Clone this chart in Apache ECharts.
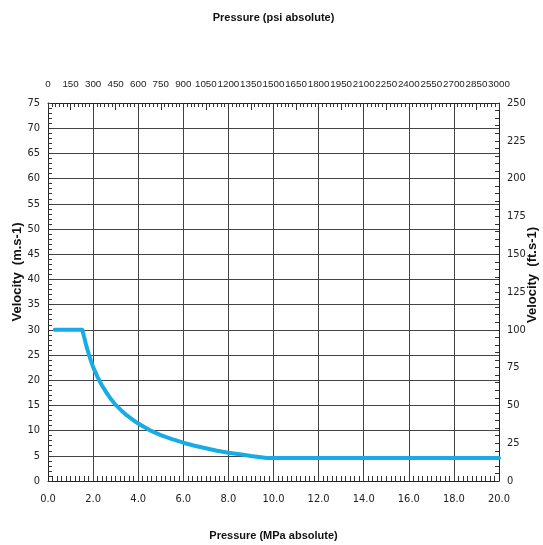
<!DOCTYPE html>
<html><head><meta charset="utf-8">
<script src="https://cdn.jsdelivr.net/npm/echarts@6/dist/echarts.min.js"></script>
<style>html,body{margin:0;padding:0;background:#fff}#c{width:543px;height:545px}</style>
</head><body><div id="c"></div>
<script>
// Data
const pressureMPa = [0.3, 1.52, 1.6, 1.7, 1.8, 1.9, 2.0, 2.2, 2.4, 2.6, 2.8, 3.0, 3.25, 3.5, 3.75, 4.0, 4.5, 5.0, 5.5, 6.0, 6.5, 7.0, 7.5, 8.0, 8.5, 9.0, 9.7, 20.0];
const velocityMS  = [30,  30,   28.6, 26.8, 25.3, 23.9, 22.6, 20.6, 18.9, 17.5, 16.2, 15.1, 14.0, 13.0, 12.2, 11.4, 10.1, 9.1, 8.3, 7.6, 7.0, 6.5, 6.0, 5.6, 5.3, 4.95, 4.55, 4.55];
const psiTickLabels = [0, 150, 300, 450, 600, 750, 900, 1050, 1200, 1350, 1500, 1650, 1800, 1950, 2100, 2250, 2400, 2550, 2700, 2850, 3000];
const mpaTicks = {min: 0, max: 20, interval: 2};
const psiTicks = {min: 0, max: 3000, interval: 150};
const leftTicks = {min: 0, max: 75, interval: 5};
const rightTicks = {min: 0, max: 250, interval: 25};

const narrow = '"DejaVu Sans Condensed", "Liberation Sans", Arial, sans-serif';
const wide = '"Liberation Sans", Arial, sans-serif';
const axisLine = {show: true, onZero: false, lineStyle: {color: '#222', width: 1}};
const lbl = {color: '#222', fontFamily: narrow, fontSize: 11};
const tickCol = {color: '#333'};

const chart = echarts.init(document.getElementById('c'));
chart.setOption({
  animation: false,
  grid: {left: 48, right: 44, top: 103, bottom: 64, outerBoundsMode: 'none', containLabel: false},
  xAxis: [{
    type: 'value', position: 'bottom', ...mpaTicks,
    name: 'Pressure (MPa absolute)', nameLocation: 'middle', nameGap: 49,
    nameTextStyle: {fontFamily: wide, fontWeight: 'bold', fontSize: 11, color: '#111'},
    axisLine, axisTick: {show: false, inside: true},
    minorTick: {show: true, splitNumber: 10, length: 5, lineStyle: tickCol},
    axisLabel: {...lbl, margin: 13, formatter: v => v.toFixed(1), showMaxLabel: true, showMinLabel: true},
    splitLine: {show: true, lineStyle: {color: '#444', width: 1}},
    minorSplitLine: {show: false}
  }, {
    type: 'value', position: 'top', ...psiTicks,
    name: 'Pressure (psi absolute)', nameLocation: 'middle', nameGap: 80,
    nameTextStyle: {fontFamily: wide, fontWeight: 'bold', fontSize: 11, color: '#111'},
    axisLine, axisTick: {show: true, inside: true, length: 7, lineStyle: tickCol},
    minorTick: {show: true, splitNumber: 6, length: 4, lineStyle: tickCol},
    axisLabel: {color: '#222', fontFamily: wide, fontSize: 9.8, margin: 14, hideOverlap: false,
      showMaxLabel: true, showMinLabel: true,
      customValues: psiTickLabels, formatter: v => String(v)},
    splitLine: {show: false}
  }],
  yAxis: [{
    type: 'value', position: 'left', ...leftTicks,
    name: 'Velocity  (m.s-1)', nameLocation: 'middle', nameGap: 24, nameMoveOverlap: false,
    nameTextStyle: {fontFamily: wide, fontWeight: 'bold', fontSize: 13, color: '#111', padding: [0, 0, 0, 40]},
    axisLine, axisTick: {show: true, inside: true, length: 4, lineStyle: tickCol},
    minorTick: {show: true, splitNumber: 5, length: 4, lineStyle: tickCol},
    axisLabel: {...lbl, margin: 8},
    splitLine: {show: true, lineStyle: {color: '#444', width: 1}}
  }, {
    type: 'value', position: 'right', ...rightTicks,
    name: 'Velocity  (ft.s-1)', nameLocation: 'middle', nameGap: 27, nameMoveOverlap: false,
    nameTextStyle: {fontFamily: wide, fontWeight: 'bold', fontSize: 13, color: '#111', padding: [0, 0, 0, 34]},
    axisLine, axisTick: {show: true, inside: true, length: 4, lineStyle: tickCol},
    minorTick: {show: true, splitNumber: 5, length: 4, lineStyle: tickCol},
    axisLabel: {...lbl, margin: 8},
    splitLine: {show: false}
  }],
  series: [{
    type: 'line', xAxisIndex: 0, yAxisIndex: 0,
    data: pressureMPa.map((p, i) => [p, velocityMS[i]]),
    showSymbol: false, smooth: false,
    lineStyle: {color: '#18ace6', width: 4, join: 'round', cap: 'round'},
    z: 5
  }]
});
</script></body></html>
